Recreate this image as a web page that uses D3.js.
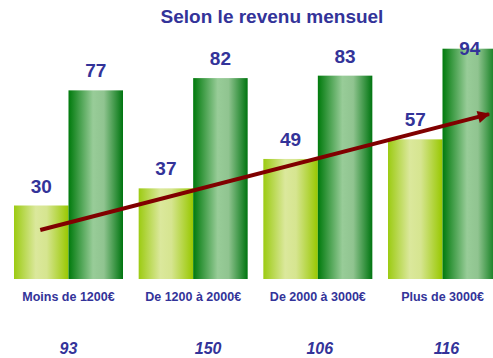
<!DOCTYPE html>
<html>
<head>
<meta charset="utf-8">
<script src="https://cdn.jsdelivr.net/npm/d3@7"></script>
<style>
  html, body { margin: 0; padding: 0; background: #fff; }
  svg { display: block; font-family: Arial, "Liberation Sans", sans-serif; }
</style>
</head>
<body>
<svg id="chart" width="493" height="358"></svg>
<script>
// Revenue brackets and the two series shown per bracket
const categories = ["Moins de 1200€", "De 1200 à 2000€", "De 2000 à 3000€", "Plus de 3000€"];
const seriesLight = [30, 37, 49, 57];
const seriesDark = [77, 82, 83, 94];
const baseCounts = ["93", "150", "106", "116"];
// Trend arrow, expressed in value units (start / end)
const trendValues = [20, 67.3];

const W = 493, H = 358;
const baseline = 279;
const labelColor = "#333399";

const svg = d3.select("#chart");

const x = d3.scaleBand().domain(categories).range([14, 497]).paddingInner(0.1257).paddingOuter(0);
const sub = d3.scaleBand().domain(["light", "dark"]).range([0, x.bandwidth()]);
const y = d3.scaleLinear().domain([0, 100]).range([baseline, baseline - 245]);

const defs = svg.append("defs");
function hGrad(id, stops) {
  const g = defs.append("linearGradient").attr("id", id)
    .attr("x1", "0%").attr("x2", "100%").attr("y1", "0%").attr("y2", "0%");
  stops.forEach(([o, c]) => g.append("stop").attr("offset", o).attr("stop-color", c));
}
hGrad("gLight", [["0%", "#9ccb12"], ["40%", "#dbe89c"], ["60%", "#d6e590"], ["100%", "#98c800"]]);
hGrad("gDark", [["0%", "#007a0c"], ["45%", "#98cc98"], ["65%", "#90c490"], ["100%", "#007510"]]);
defs.append("marker").attr("id", "arrowHead")
  .attr("viewBox", "0 0 10 10").attr("refX", 9).attr("refY", 5)
  .attr("markerWidth", 3.8).attr("markerHeight", 3.1).attr("markerUnits", "strokeWidth")
  .attr("orient", "auto")
  .append("path").attr("d", "M0,0 L10,5 L0,10 Z").attr("fill", "#800000");

// Title
svg.append("text").attr("x", 272).attr("y", 23).attr("text-anchor", "middle")
  .attr("font-size", 19).attr("font-weight", "bold").attr("fill", labelColor)
  .text("Selon le revenu mensuel");

const groups = svg.append("g").selectAll("g").data(categories).join("g")
  .attr("transform", d => `translate(${x(d)},0)`);

// Bars
groups.append("rect")
  .attr("x", sub("light")).attr("width", sub.bandwidth())
  .attr("y", (d, i) => y(seriesLight[i])).attr("height", (d, i) => baseline - y(seriesLight[i]))
  .attr("fill", "url(#gLight)");
groups.append("rect")
  .attr("x", sub("dark")).attr("width", sub.bandwidth())
  .attr("y", (d, i) => y(seriesDark[i])).attr("height", (d, i) => baseline - y(seriesDark[i]))
  .attr("fill", "url(#gDark)");

// Value labels (kept inside the plotting area)
const plotTop = 55;
function addValueLabels(values, key) {
  groups.append("text")
    .attr("x", sub(key) + sub.bandwidth() / 2)
    .attr("y", (d, i) => Math.max(y(values[i]) - 13, plotTop))
    .attr("text-anchor", "middle").attr("font-size", 19).attr("font-weight", "bold")
    .attr("fill", labelColor)
    .text((d, i) => values[i]);
}
addValueLabels(seriesLight, "light");
addValueLabels(seriesDark, "dark");

// Category labels
groups.append("text")
  .attr("x", x.bandwidth() / 2).attr("y", 301)
  .attr("text-anchor", "middle").attr("font-size", 12.5).attr("font-weight", "bold")
  .attr("fill", labelColor)
  .text(d => d);

// Base counts under each bracket
const countShift = [0, 15, 2, 4];
groups.append("text")
  .attr("x", (d, i) => x.bandwidth() / 2 + countShift[i]).attr("y", 354)
  .attr("text-anchor", "middle").attr("font-size", 16).attr("font-weight", "bold")
  .attr("font-style", "italic").attr("fill", labelColor)
  .text((d, i) => baseCounts[i]);

// Trend arrow from the first to the last bracket
const x0 = x(categories[0]) + sub("light") + sub.bandwidth() / 2 - 1;
const x1 = x(categories[3]) + sub("dark") + sub.bandwidth() - 8;
svg.append("line")
  .attr("x1", x0).attr("y1", y(trendValues[0]))
  .attr("x2", x1).attr("y2", y(trendValues[1]))
  .attr("stroke", "#800000").attr("stroke-width", 4)
  .attr("marker-end", "url(#arrowHead)");
</script>
</body>
</html>
